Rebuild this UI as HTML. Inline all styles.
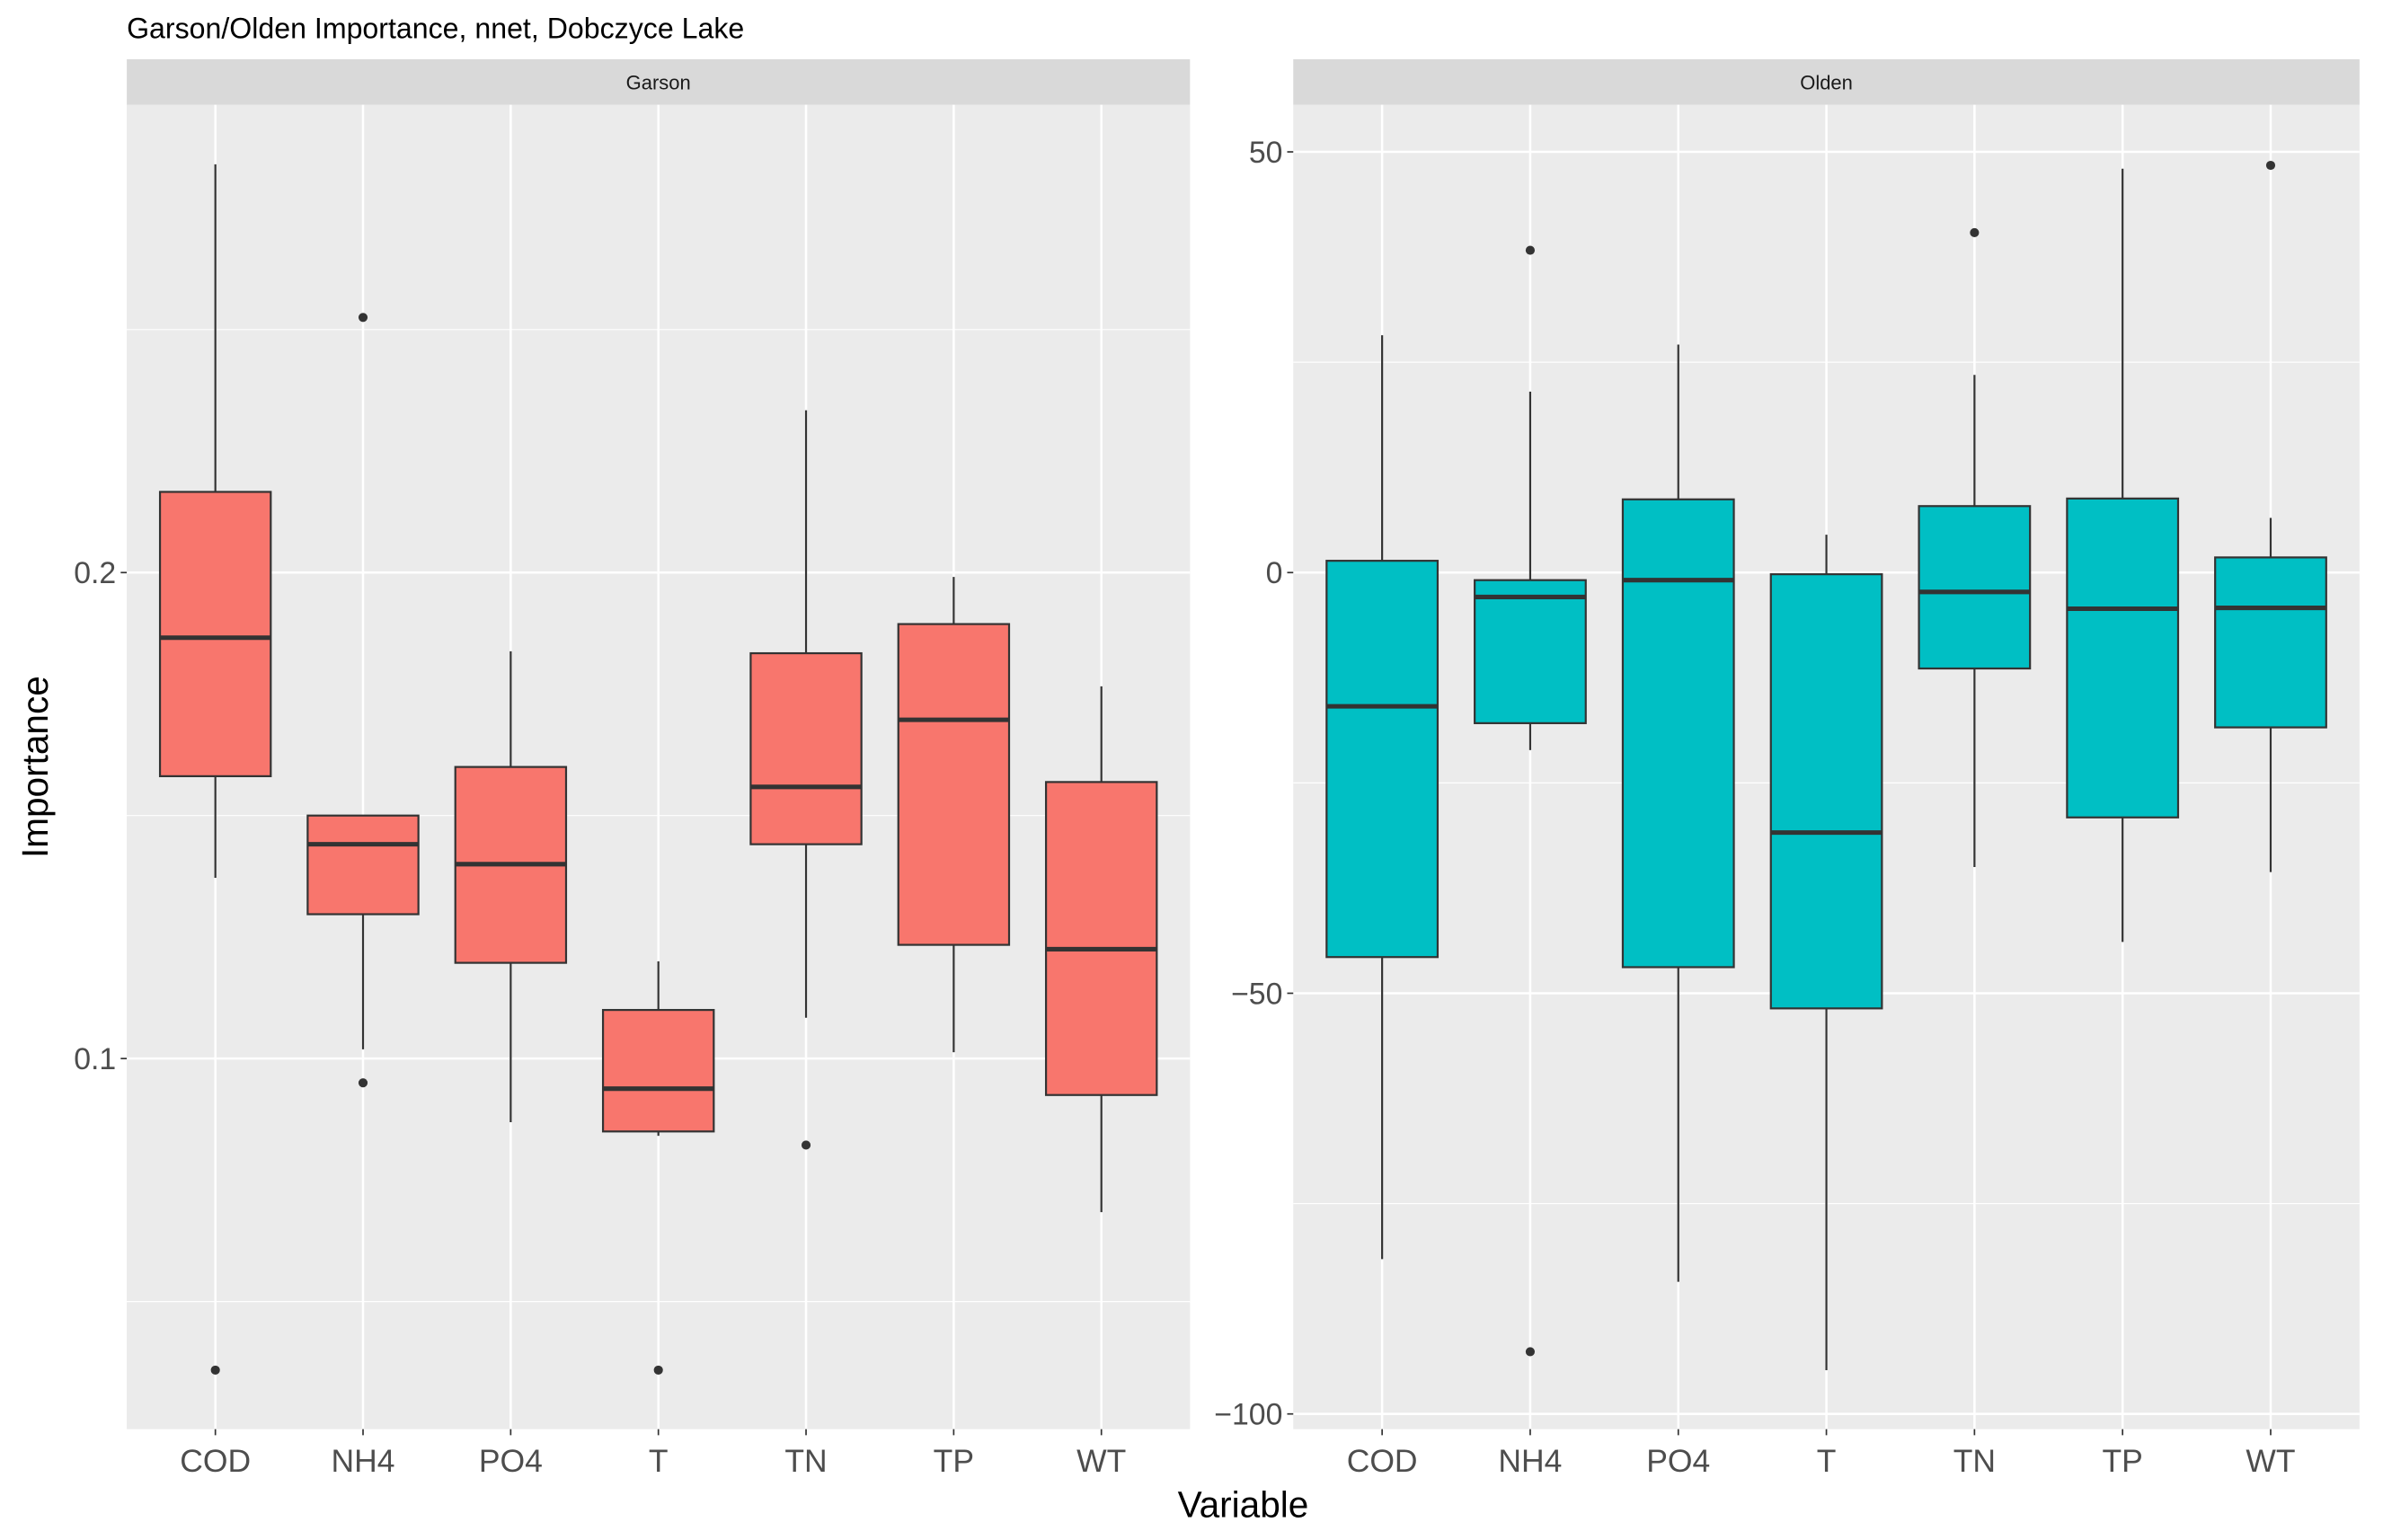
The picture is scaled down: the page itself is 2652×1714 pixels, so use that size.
<!DOCTYPE html>
<html><head><meta charset="utf-8">
<style>html,body{margin:0;padding:0;background:#fff}svg{display:block}</style>
</head><body>
<svg id="chart" width="2652" height="1714" viewBox="0 0 1568 1014" xmlns="http://www.w3.org/2000/svg" font-family="Liberation Sans, sans-serif"></svg>
<script>
const categories = ["COD","NH4","PO4","T","TN","TP","WT"];
// Garson: [lowWhisker, q1, median, q3, highWhisker]
const garsonLow  = [0.1372,0.1019,0.0869,0.0841,0.1084,0.1013,0.0684];
const garsonQ1   = [0.1581,0.1297,0.1197,0.0850,0.1441,0.1234,0.0925];
const garsonMed  = [0.1866,0.1441,0.1400,0.0938,0.1559,0.1697,0.1225];
const garsonQ3   = [0.2166,0.1500,0.1600,0.1100,0.1834,0.1894,0.1569];
const garsonHigh = [0.2840,0.1500,0.1838,0.1200,0.2334,0.1991,0.1766];
const garsonOutCat = [0,1,1,3,4];
const garsonOutVal = [0.0359,0.2525,0.0950,0.0359,0.0822];
const garsonTicks = [0.1,0.2];
const garsonTickLabels = ["0.1","0.2"];
// Olden
const oldenLow  = [-81.6,-21.1,-84.3,-94.8,-35.0,-43.9,-35.6];
const oldenQ1   = [-45.7,-17.9,-46.9,-51.8,-11.4,-29.1,-18.4];
const oldenMed  = [-15.9,-2.9,-0.9,-30.9,-2.3,-4.3,-4.2];
const oldenQ3   = [1.4,-0.9,8.7,-0.2,7.9,8.8,1.8];
const oldenHigh = [28.2,21.5,27.1,4.5,23.5,48.0,6.5];
const oldenOutCat = [1,1,4,6];
const oldenOutVal = [38.3,-92.6,40.4,48.4];
const oldenTicks = [-100,-50,0,50];
const oldenTickLabels = ["\u2212100","\u221250","0","50"];

const svg = document.getElementById('chart');
const NS = "http://www.w3.org/2000/svg";
function mk(tag, attrs, parent){const e=document.createElementNS(NS,tag);for(const k in attrs)e.setAttribute(k,attrs[k]);(parent||svg).appendChild(e);return e;}

const pTop=69, pBot=941;
function panel(cfg){
  const g = mk('g',{});
  
  
  const x0=cfg.x0, x1=cfg.x1;
  const y = v => cfg.yRef + (cfg.vRef - v)*cfg.scale;
  const step=(x1-x0)/(categories.length-1+1.2);
  const x = i => x0 + step*(i+0.6);
  const bg=mk('rect',{x:x0,y:pTop,width:x1-x0,height:pBot-pTop,fill:'#ebebeb'},g);
  
  
  const strip=mk('rect',{x:x0,y:39,width:x1-x0,height:30,fill:'#d9d9d9'},g);
  
  
  const st=mk('text',{x:(x0+x1)/2,y:59,'font-size':13,'text-anchor':'middle',fill:'#1a1a1a'},g);
  st.textContent=cfg.title;
  
  
  for(let i=0;i<cfg.ticks.length;i++){
    const m=cfg.ticks[i]+cfg.minorStep;
    const yy=y(m); if(yy>pTop&&yy<pBot) mk('line',{x1:x0,x2:x1,y1:yy,y2:yy,stroke:'#fff','stroke-width':0.7},g);
    const m2=cfg.ticks[i]-cfg.minorStep; const y2=y(m2);
    if(i==0&&y2>pTop&&y2<pBot) mk('line',{x1:x0,x2:x1,y1:y2,y2:y2,stroke:'#fff','stroke-width':0.7},g);
  }
  cfg.ticks.forEach((t,i)=>{
    const yy=y(t);
    mk('line',{x1:x0,x2:x1,y1:yy,y2:yy,stroke:'#fff','stroke-width':1.5},g);
    mk('line',{x1:x0-4,x2:x0,y1:yy,y2:yy,stroke:'#333','stroke-width':1},g);
    const tl=mk('text',{x:x0-7,y:yy+7,'font-size':20,'text-anchor':'end',fill:'#4d4d4d'},g);
    tl.textContent=cfg.tickLabels[i];
    
    
  });
  categories.forEach((c,i)=>{
    mk('line',{x1:x(i),x2:x(i),y1:pTop,y2:pBot,stroke:'#fff','stroke-width':1.5},g);
    mk('line',{x1:x(i),x2:x(i),y1:pBot,y2:pBot+4,stroke:'#333','stroke-width':1},g);
    const tl=mk('text',{x:x(i),y:pBot+28,'font-size':21,'text-anchor':'middle',fill:'#4d4d4d'},g);
    tl.textContent=c;
    
    
  });
  const hw=step*0.375;
  categories.forEach((c,i)=>{
    const bx=mk('g',{},g);
    
    
    mk('line',{x1:x(i),x2:x(i),y1:y(cfg.high[i]),y2:y(cfg.q3[i]),stroke:'#333','stroke-width':1.3},bx);
    mk('line',{x1:x(i),x2:x(i),y1:y(cfg.q1[i]),y2:y(cfg.low[i]),stroke:'#333','stroke-width':1.3},bx);
    mk('rect',{x:x(i)-hw,y:y(cfg.q3[i]),width:hw*2,height:y(cfg.q1[i])-y(cfg.q3[i]),fill:cfg.fill,stroke:'#333','stroke-width':1.3},bx);
    mk('line',{x1:x(i)-hw,x2:x(i)+hw,y1:y(cfg.med[i]),y2:y(cfg.med[i]),stroke:'#333','stroke-width':3},bx);
  });
  cfg.outCat.forEach((ci,k)=>{
    const p=mk('circle',{cx:x(ci),cy:y(cfg.outVal[k]),r:3,fill:'#333'},g);
    
    
  });
}
panel({name:'garson',title:'Garson',x0:83,x1:783,yRef:377,vRef:0.2,scale:3200,ticks:garsonTicks,tickLabels:garsonTickLabels,minorStep:0.05,
  low:garsonLow,q1:garsonQ1,med:garsonMed,q3:garsonQ3,high:garsonHigh,outCat:garsonOutCat,outVal:garsonOutVal,fill:'#f8766d'});
panel({name:'olden',title:'Olden',x0:851,x1:1553,yRef:377,vRef:0,scale:5.54,ticks:oldenTicks,tickLabels:oldenTickLabels,minorStep:25,
  low:oldenLow,q1:oldenQ1,med:oldenMed,q3:oldenQ3,high:oldenHigh,outCat:oldenOutCat,outVal:oldenOutVal,fill:'#00bfc4'});

const t=mk('text',{x:83,y:25,'font-size':19,fill:'#000'});t.textContent='Garson/Olden Importance, nnet, Dobczyce Lake';


const xt=mk('text',{x:818,y:999,'font-size':24,'text-anchor':'middle',fill:'#000'});xt.textContent='Variable';


const yt=mk('text',{x:0,y:0,'font-size':24,'text-anchor':'middle',fill:'#000',transform:'translate(31,505) rotate(-90)'});yt.textContent='Importance';


</script>
</body></html>
